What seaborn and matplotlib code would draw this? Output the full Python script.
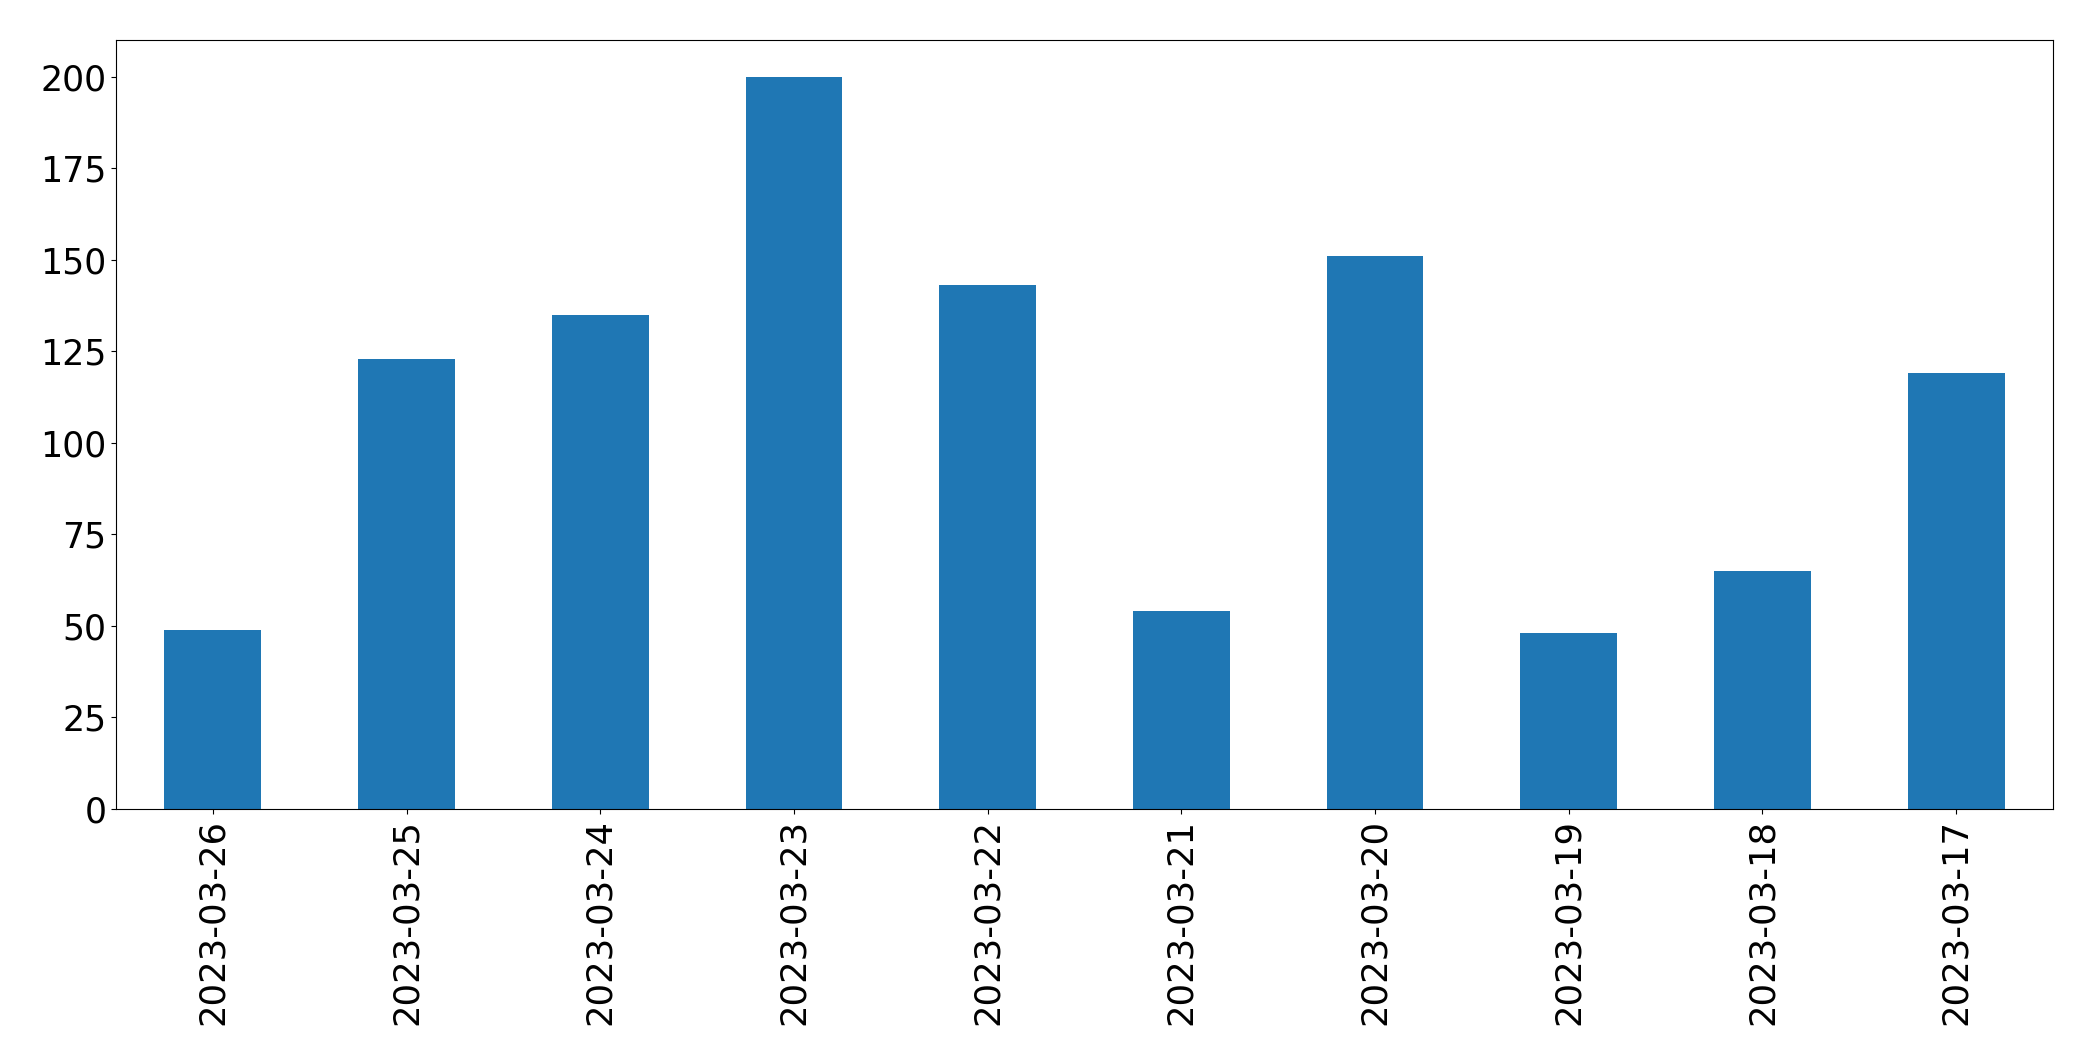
import matplotlib
matplotlib.use("Agg")
import matplotlib.pyplot as plt
import seaborn as sns
import pandas as pd

dates = ["2023-03-26", "2023-03-25", "2023-03-24", "2023-03-23", "2023-03-22",
         "2023-03-21", "2023-03-20", "2023-03-19", "2023-03-18", "2023-03-17"]
counts = [49, 123, 135, 200, 143, 54, 151, 48, 65, 119]

df = pd.DataFrame({"date": dates, "count": counts})

fig = plt.figure(figsize=(20.93, 10.61), dpi=100)
ax = fig.add_axes([116 / 2093, 1 - 809 / 1061, (2053 - 116) / 2093, (809 - 40) / 1061])

sns.barplot(data=df, x="date", y="count", order=dates, color="#1f77b4",
            saturation=1, width=0.5, ax=ax, errorbar=None, linewidth=0)

ax.set_ylim(0, 210)
ax.set_xlim(-0.5, len(dates) - 0.5)
ax.set_xlabel("")
ax.set_ylabel("")
ax.tick_params(axis="y", labelsize=25)
ax.tick_params(axis="x", labelsize=25.5, labelrotation=90)
for s in ax.spines.values():
    s.set_visible(True)
    s.set_color("black")

fig.savefig("out.png", dpi=100)
